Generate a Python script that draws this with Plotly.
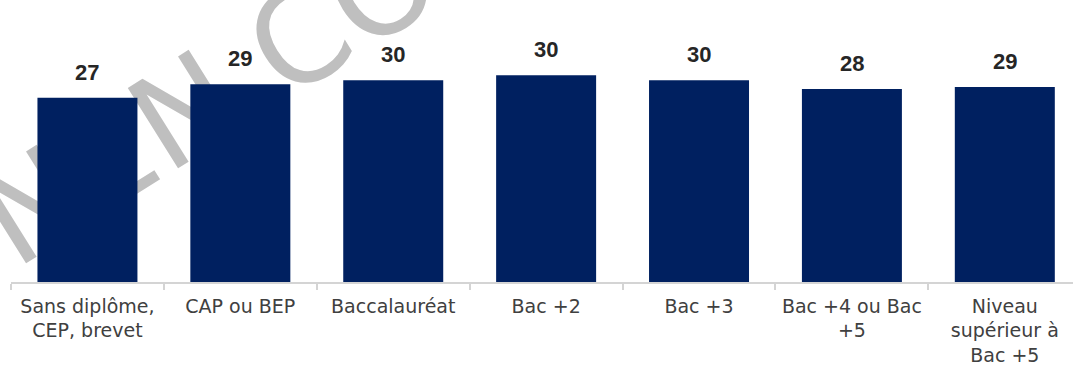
import plotly.graph_objects as go

categories = [
    "Sans diplôme,<br>CEP, brevet",
    "CAP ou BEP",
    "Baccalauréat",
    "Bac +2",
    "Bac +3",
    "Bac +4 ou Bac<br>+5",
    "Niveau<br>supérieur à<br>Bac +5",
]
values = [27.0, 29.0, 29.6, 30.3, 29.6, 28.3, 28.6]
value_labels = [f"{v:.0f}" for v in values]
watermark_text = "NEN CO"

BAR_COLOR = "#002060"
AXIS_COLOR = "#d4d4d4"

fig = go.Figure()
fig.add_trace(go.Bar(
    x=categories,
    y=values,
    marker=dict(color=BAR_COLOR, line=dict(width=0)),
    hoverinfo="skip",
))

for c, v, t in zip(categories, values, value_labels):
    fig.add_annotation(
        x=c, y=v, text=f"<b>{t}</b>", showarrow=False,
        yanchor="bottom", yshift=11,
        font=dict(family="Liberation Sans, Arial, sans-serif", size=22, color="#262626"),
    )

# watermark drawn below the bars
wx, wy = 0.181, 0.685
fig.add_shape(
    type="rect", xref="paper", yref="paper",
    x0=wx - 0.05, x1=wx + 0.05, y0=wy - 0.05, y1=wy + 0.05,
    line=dict(width=0), fillcolor="rgba(0,0,0,0)", layer="below",
    label=dict(text=watermark_text, textangle=-32, textposition="middle center",
               font=dict(family="DejaVu Sans, sans-serif", size=130, color="#bfbfbf")),
)

fig.update_layout(
    width=1073, height=371,
    margin=dict(l=11, r=0, t=0, b=89, autoexpand=False),
    paper_bgcolor="white", plot_bgcolor="white",
    bargap=0.346,
    showlegend=False,
    xaxis=dict(
        type="category",
        automargin=False,
        range=[-0.5, 6.446],
        showline=True, linecolor=AXIS_COLOR, linewidth=1.5,
        ticks="outside", tickson="boundaries", ticklen=6, tickcolor=AXIS_COLOR, tickwidth=1.5,
        ticklabelstandoff=6,
        showgrid=False, zeroline=False,
        tickfont=dict(family="DejaVu Sans, sans-serif", size=19, color="#404040"),
        fixedrange=True,
    ),
    yaxis=dict(
        automargin=False,
        range=[0, 41.35], visible=False, showgrid=False, zeroline=False, fixedrange=True,
    ),
)

fig.write_html("out.html", config={"displayModeBar": False},
               post_script="document.body.style.margin='0px';")
